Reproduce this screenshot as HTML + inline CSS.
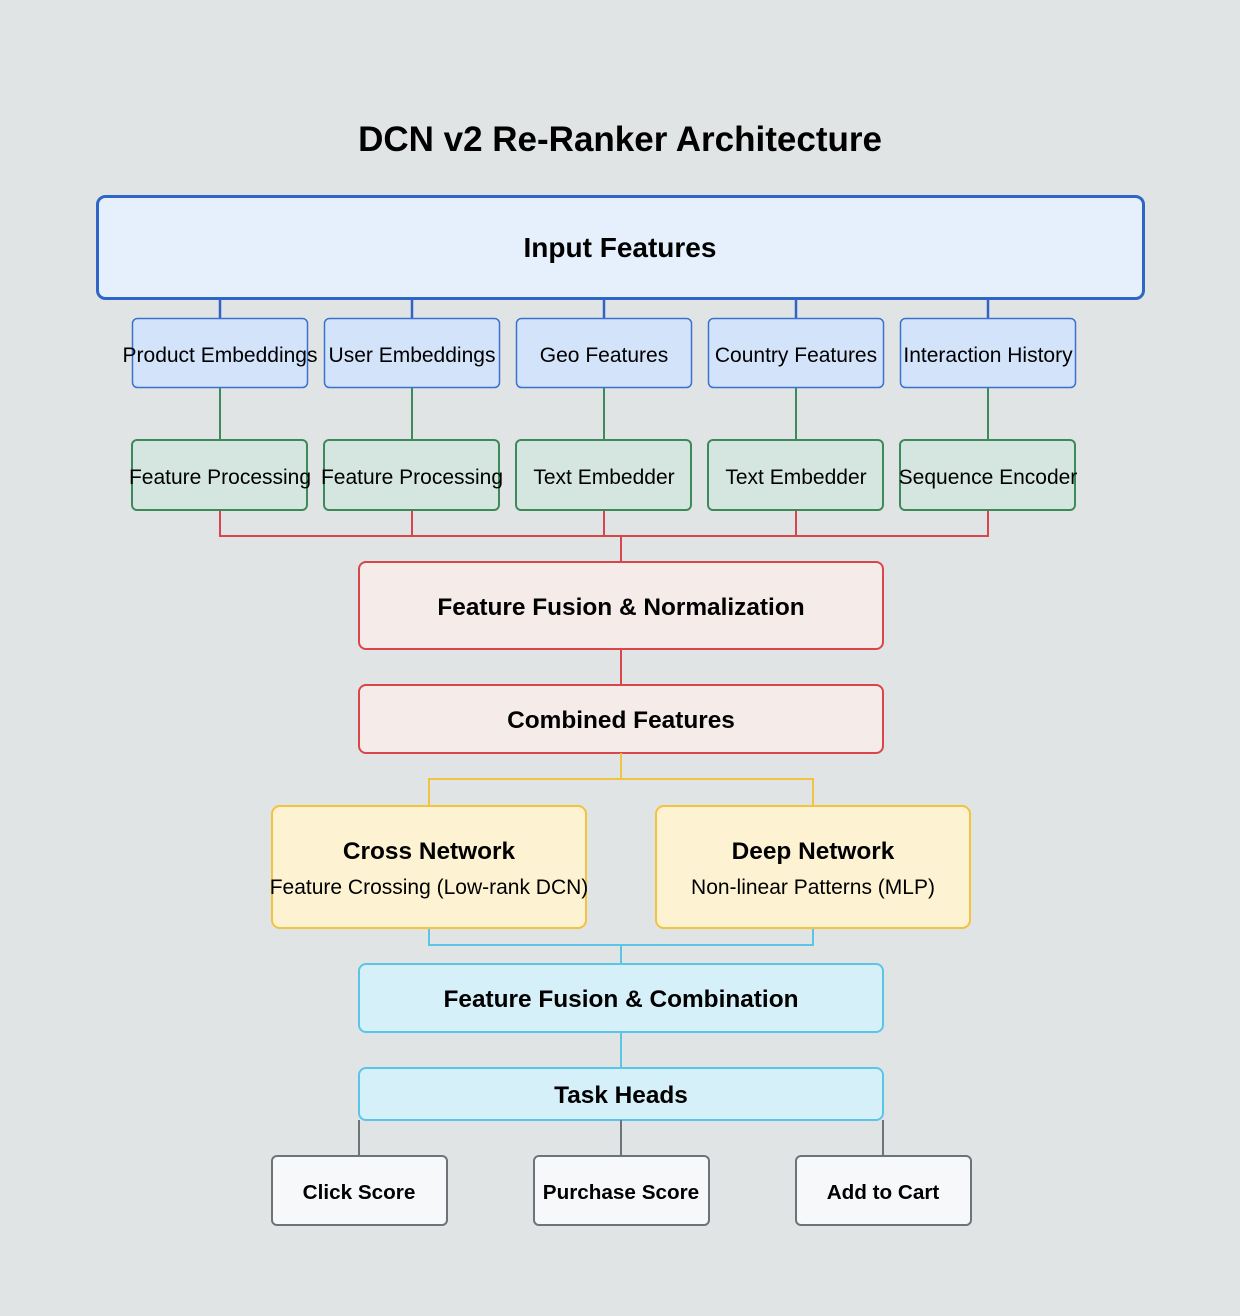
<!DOCTYPE html>
<html><head><meta charset="utf-8"><style>
html,body{margin:0;padding:0;background:#e1e4e5;}
svg{display:block;font-family:"Liberation Sans",Arial,sans-serif;}
</style></head><body>
<svg width="1240" height="1316" viewBox="0 0 1240 1316" xmlns="http://www.w3.org/2000/svg">
<rect width="1240" height="1316" fill="#e1e4e5"/>
<text x="620" y="151" text-anchor="middle" font-size="35" font-weight="bold" fill="#000">DCN v2 Re-Ranker Architecture</text>

<g stroke="#2d66c7" stroke-width="2.5">
<line x1="220" y1="299" x2="220" y2="318"/><line x1="412" y1="299" x2="412" y2="318"/>
<line x1="604" y1="299" x2="604" y2="318"/><line x1="796" y1="299" x2="796" y2="318"/>
<line x1="988" y1="299" x2="988" y2="318"/>
</g>
<rect x="97.5" y="196.5" width="1046" height="102" rx="8" fill="#e6f0fc" stroke="#2d66c7" stroke-width="3"/>
<text x="620" y="257" text-anchor="middle" font-size="28" font-weight="bold">Input Features</text>

<g stroke="#3c8a5a" stroke-width="2">
<line x1="220" y1="387" x2="220" y2="440"/><line x1="412" y1="387" x2="412" y2="440"/>
<line x1="604" y1="387" x2="604" y2="440"/><line x1="796" y1="387" x2="796" y2="440"/>
<line x1="988" y1="387" x2="988" y2="440"/>
</g>
<g fill="#d3e3fa" stroke="#3a72d0" stroke-width="1.5">
<rect x="132.5" y="318.5" width="175" height="69" rx="5"/>
<rect x="324.5" y="318.5" width="175" height="69" rx="5"/>
<rect x="516.5" y="318.5" width="175" height="69" rx="5"/>
<rect x="708.5" y="318.5" width="175" height="69" rx="5"/>
<rect x="900.5" y="318.5" width="175" height="69" rx="5"/>
</g>
<g font-size="21" text-anchor="middle" fill="#000">
<text x="220" y="362">Product Embeddings</text>
<text x="412" y="362">User Embeddings</text>
<text x="604" y="362">Geo Features</text>
<text x="796" y="362">Country Features</text>
<text x="988" y="362">Interaction History</text>
</g>

<g stroke="#d9454a" stroke-width="2" fill="none">
<polyline points="220,510 220,536 988,536 988,510"/>
<line x1="412" y1="510" x2="412" y2="536"/><line x1="604" y1="510" x2="604" y2="536"/>
<line x1="796" y1="510" x2="796" y2="536"/>
<line x1="621" y1="536" x2="621" y2="562"/>
<line x1="621" y1="649" x2="621" y2="685"/>
</g>
<g fill="#d5e6e0" stroke="#3c8a5a" stroke-width="2">
<rect x="132" y="440" width="175" height="70" rx="5"/>
<rect x="324" y="440" width="175" height="70" rx="5"/>
<rect x="516" y="440" width="175" height="70" rx="5"/>
<rect x="708" y="440" width="175" height="70" rx="5"/>
<rect x="900" y="440" width="175" height="70" rx="5"/>
</g>
<g font-size="21" text-anchor="middle" fill="#000">
<text x="220" y="484">Feature Processing</text>
<text x="412" y="484">Feature Processing</text>
<text x="604" y="484">Text Embedder</text>
<text x="796" y="484">Text Embedder</text>
<text x="988" y="484">Sequence Encoder</text>
</g>

<rect x="359" y="562" width="524" height="87" rx="7" fill="#f5ebe9" stroke="#d9454a" stroke-width="2"/>
<text x="621" y="615" text-anchor="middle" font-size="24.4" font-weight="bold">Feature Fusion &amp; Normalization</text>
<rect x="359" y="685" width="524" height="68" rx="7" fill="#f5ebe9" stroke="#d9454a" stroke-width="2"/>
<text x="621" y="728" text-anchor="middle" font-size="24.4" font-weight="bold">Combined Features</text>

<g stroke="#f2c240" stroke-width="2" fill="none">
<line x1="621" y1="753" x2="621" y2="779"/>
<polyline points="429,806 429,779 813,779 813,806"/>
</g>
<g stroke="#5bc5e8" stroke-width="2" fill="none">
<polyline points="429,928 429,945 813,945 813,928"/>
<line x1="621" y1="945" x2="621" y2="964"/>
<line x1="621" y1="1032" x2="621" y2="1068"/>
</g>
<g fill="#fdf2d2" stroke="#f2c240" stroke-width="2">
<rect x="272" y="806" width="314" height="122" rx="8"/>
<rect x="656" y="806" width="314" height="122" rx="8"/>
</g>
<text x="429" y="859" text-anchor="middle" font-size="24.4" font-weight="bold">Cross Network</text>
<text x="429" y="894" text-anchor="middle" font-size="21">Feature Crossing (Low-rank DCN)</text>
<text x="813" y="859" text-anchor="middle" font-size="24.4" font-weight="bold">Deep Network</text>
<text x="813" y="894" text-anchor="middle" font-size="21">Non-linear Patterns (MLP)</text>

<rect x="359" y="964" width="524" height="68" rx="7" fill="#d5f0f9" stroke="#5bc5e8" stroke-width="2"/>
<text x="621" y="1007" text-anchor="middle" font-size="24.4" font-weight="bold">Feature Fusion &amp; Combination</text>
<rect x="359" y="1068" width="524" height="52" rx="7" fill="#d5f0f9" stroke="#5bc5e8" stroke-width="2"/>
<text x="621" y="1103" text-anchor="middle" font-size="24.4" font-weight="bold">Task Heads</text>

<g stroke="#6e737a" stroke-width="2">
<line x1="359" y1="1120" x2="359" y2="1156"/>
<line x1="621" y1="1120" x2="621" y2="1156"/>
<line x1="883" y1="1120" x2="883" y2="1156"/>
</g>
<g fill="#f6f8fa" stroke="#6e737a" stroke-width="2">
<rect x="272" y="1156" width="175" height="69" rx="5"/>
<rect x="534" y="1156" width="175" height="69" rx="5"/>
<rect x="796" y="1156" width="175" height="69" rx="5"/>
</g>
<g font-size="20.7" font-weight="bold" text-anchor="middle">
<text x="359" y="1199">Click Score</text>
<text x="621" y="1199">Purchase Score</text>
<text x="883" y="1199">Add to Cart</text>
</g>
</svg>
</body></html>
